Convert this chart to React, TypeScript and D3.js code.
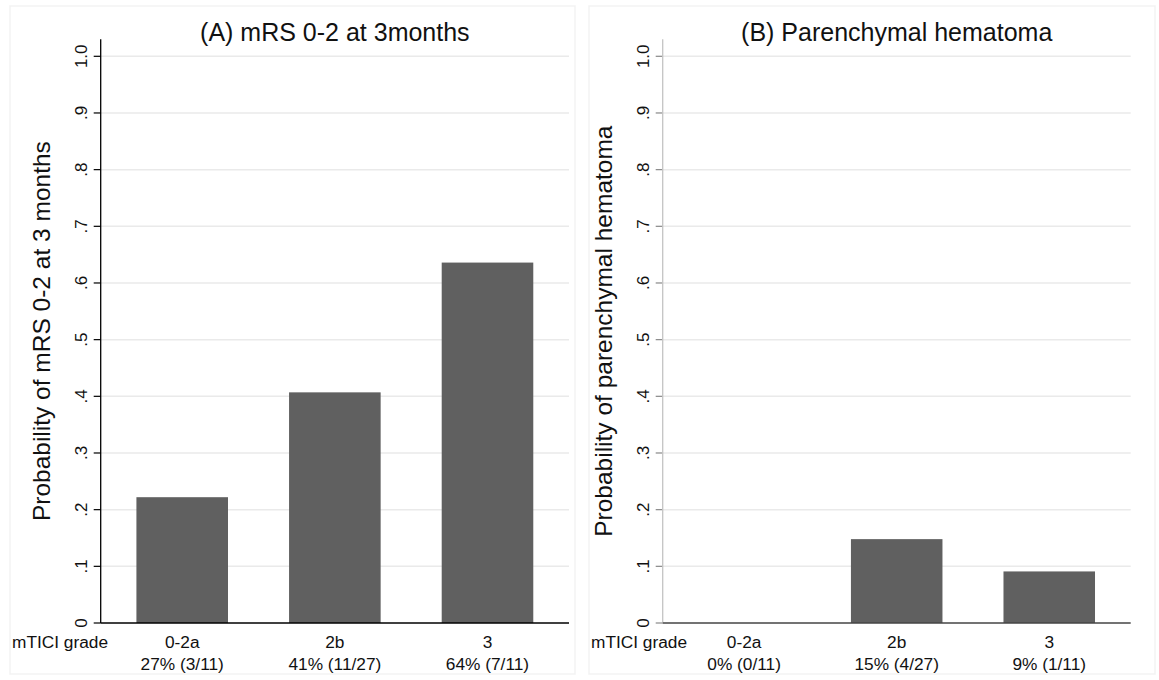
import React from "react";
import * as d3 from "d3";

const categories = ["0-2a", "2b", "3"];
const mrsValues = [0.222, 0.407, 0.636];
const mrsLabels = ["27% (3/11)", "41% (11/27)", "64% (7/11)"];
const phValues = [0, 0.148, 0.091];
const phLabels = ["0% (0/11)", "15% (4/27)", "9% (1/11)"];
const yTicks = [0, 0.1, 0.2, 0.3, 0.4, 0.5, 0.6, 0.7, 0.8, 0.9, 1.0];
const yTickLabels = ["0", ".1", ".2", ".3", ".4", ".5", ".6", ".7", ".8", ".9", "1.0"];

const FONT = "'Liberation Sans', Arial, Helvetica, sans-serif";

type PanelProps = {
  values: number[];
  labels: string[];
  title: string;
  yTitle: string;
  left: number;
  right: number;
  frameX: number;
  frameW: number;
  axisColor: string;
  tickColor: string;
  xAxisColor: string;
};

const y = d3.scaleLinear().domain([0, 1]).range([623, 56.3]);

function Panel(p: PanelProps) {
  const x = d3
    .scaleBand<string>()
    .domain(categories)
    .range([p.left, p.right])
    .paddingInner(0.4)
    .paddingOuter(0.234);
  const cx = (p.left + p.right) / 2;
  const yAxisTop = y(1.03);
  return (
    <g>
      <rect x={p.frameX} y={6} width={p.frameW} height={668} fill="white" stroke="#f3f3f3" strokeWidth={1.5} />
      {yTicks.map((t, i) => (
        <g key={i}>
          {t > 0 && (
            <line x1={p.left} x2={p.right} y1={y(t)} y2={y(t)} stroke="#eaeaea" strokeWidth={1.5} />
          )}
          <line x1={p.left - 7} x2={p.left} y1={y(t)} y2={y(t)} stroke={p.tickColor} strokeWidth={1.2} />
          <text
            transform={`translate(${p.left - 14},${y(t)}) rotate(-90)`}
            textAnchor="middle"
            fontSize={17}
            fontFamily={FONT}
            fill="#111"
          >
            {yTickLabels[i]}
          </text>
        </g>
      ))}
      {p.values.map((v, i) => (
        <rect
          key={i}
          x={x(categories[i])!}
          y={y(v)}
          width={x.bandwidth()}
          height={y(0) - y(v)}
          fill="#606060"
        />
      ))}
      <line x1={p.left} x2={p.left} y1={yAxisTop} y2={y(0)} stroke={p.axisColor} strokeWidth={1.3} />
      <line x1={p.left} x2={p.right} y1={y(0)} y2={y(0)} stroke={p.xAxisColor} strokeWidth={1.6} />
      <text x={p.frameX + 2} y={648} fontSize={17.3} fontFamily={FONT} fill="#111">
        mTICI grade
      </text>
      {categories.map((c, i) => (
        <g key={c}>
          <text x={x(c)! + x.bandwidth() / 2} y={648} textAnchor="middle" fontSize={17.3} fontFamily={FONT} fill="#111">
            {c}
          </text>
          <text x={x(c)! + x.bandwidth() / 2} y={670} textAnchor="middle" fontSize={17.3} fontFamily={FONT} fill="#111">
            {p.labels[i]}
          </text>
        </g>
      ))}
      <text x={cx} y={41} textAnchor="middle" fontSize={25} fontFamily={FONT} fill="#111">
        {p.title}
      </text>
      <text
        transform={`translate(${p.left - 51},${(yAxisTop + y(0)) / 2}) rotate(-90)`}
        textAnchor="middle"
        fontSize={24.5}
        fontFamily={FONT}
        fill="#111"
      >
        {p.yTitle}
      </text>
    </g>
  );
}

export default function App() {
  return (
    <svg
      width={1159}
      height={680}
      style={{ position: "absolute", left: 0, top: 0, background: "white" }}
    >
      <rect width={1159} height={680} fill="white" />
      <Panel
        values={mrsValues}
        labels={mrsLabels}
        title="(A) mRS 0-2 at 3months"
        yTitle="Probability of mRS 0-2 at 3 months"
        left={100.7}
        right={569}
        frameX={10}
        frameW={565}
        axisColor="#000"
        tickColor="#000"
        xAxisColor="#000"
      />
      <Panel
        values={phValues}
        labels={phLabels}
        title="(B) Parenchymal hematoma"
        yTitle="Probability of parenchymal hematoma"
        left={662.7}
        right={1130.7}
        frameX={589}
        frameW={566}
        axisColor="#c4c4c4"
        tickColor="#888"
        xAxisColor="#444"
      />
    </svg>
  );
}
